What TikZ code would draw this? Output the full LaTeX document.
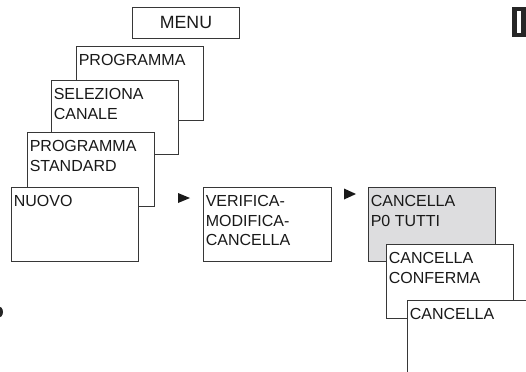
\documentclass[tikz,border=0pt]{standalone}
\usepackage{fontspec}
\setmainfont{Liberation Sans}
\usetikzlibrary{positioning}

\definecolor{boxgray}{RGB}{221,221,223}
\definecolor{linegray}{RGB}{55,55,55}

\tikzset{
	box/.style={draw=linegray, line width=0.7pt, fill=white, anchor=north west,
		minimum width=95.25pt, minimum height=55.5pt, inner sep=0pt},
	boxtext/.style={anchor=north west, inner sep=0pt, xshift=1.9pt, yshift=-6.2pt,
		align=left, text=black!90, font=\fontsize{12}{14.5}\selectfont},
	marker/.style={fill=black!90}
}

\begin{document}
\begin{tikzpicture}[x=0.75pt, y=-0.75pt]
	\useasboundingbox (0, 0) rectangle (526, 372);
	\clip (0, 0) rectangle (526, 372);

	% Instances/Symbols:
	\node[box, minimum width=80.25pt, minimum height=23.25pt, text=black!90,
		font=\fontsize{13.3}{15}\selectfont] (menu) at (132, 7) {MENU};
	\node[box, label={[boxtext]north west:PROGRAMMA}] (prog) at (76, 46) {};
	\node[box, label={[boxtext]north west:{SELEZIONA\\CANALE}}] (canale) at (51, 80) {};
	\node[box, label={[boxtext]north west:{PROGRAMMA\\STANDARD}}] (standard) at (27, 132) {};
	\node[box, label={[boxtext]north west:NUOVO}] (nuovo) at (11, 187) {};

	\node[box, minimum width=96pt, label={[boxtext]north west:{VERIFICA-\\MODIFICA-\\CANCELLA}}] (verifica) at (203, 187) {};

	\node[box, fill=boxgray, label={[boxtext]north west:{CANCELLA\\P0 TUTTI}}] (tutti) at (368, 187) {};
	\node[box, label={[boxtext]north west:{CANCELLA\\CONFERMA}}] (conferma) at (386, 244) {};
	\node[box, label={[boxtext]north west:CANCELLA}] (cancella) at (407, 300) {};

	% Arrows:
	\fill[marker] (178, 193) -- (190, 198) -- (178, 203) -- cycle;
	\fill[marker] (344, 188.5) -- (356, 194) -- (344, 199.5) -- cycle;

	% Cut-off marks:
	\fill[black!85] (512, 7) rectangle (526, 37);
	\fill[white] (517, 11) rectangle (521, 33);
	\fill[black!85] (-2, 312) ellipse (5 and 6);

\end{tikzpicture}
\end{document}
